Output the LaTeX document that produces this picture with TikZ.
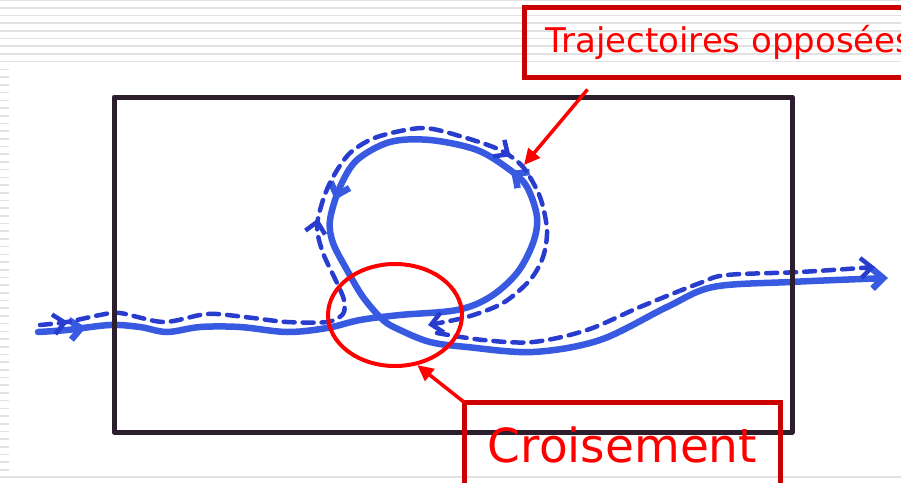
\documentclass[tikz,border=0pt]{standalone}
\usepackage{fontspec}
\setmainfont{DejaVu Sans}
\usetikzlibrary{positioning, arrows.meta, shapes.geometric, decorations.markings}

\definecolor{inkblue}{RGB}{55,90,225}
\definecolor{dashblue}{RGB}{40,60,205}
\definecolor{boxred}{RGB}{204,0,0}
\definecolor{penred}{RGB}{255,0,0}
\definecolor{markerblack}{RGB}{45,30,45}
\definecolor{stripegray}{RGB}{225,225,225}

\begin{document}
\begin{tikzpicture}[x=1pt, y=-1pt,
            % --- Styles for the sketch ---
            stripe/.style={draw=stripegray, line width=1.6pt},
            frame/.style={draw=markerblack, line width=5pt, line join=round},
            road/.style={draw=inkblue, line width=6.5pt, line cap=round, line join=round},
            track/.style={draw=dashblue, line width=4.5pt, line cap=round, dash pattern=on 11pt off 8pt},
            barb/.style={-{Straight Barb[length=11pt, width=20pt]}},
            flow mark/.style={postaction={decorate, decoration={markings,
                mark=at position #1 with {\arrow{Straight Barb[length=11pt, width=20pt]}}}}},
            labelbox/.style={draw=boxred, line width=5pt, text=penred, inner sep=0pt, outer sep=0pt},
            pointer/.style={draw=penred, line width=3.5pt, -{Triangle[length=16pt, width=15pt]}}
        ]

        \useasboundingbox (0,0) rectangle (901,482);
        \clip (0,0) rectangle (901,482);

        % --- Slide background stripes ---
        \foreach \k in {0,...,8} {
            \draw[stripe] (0,{\k*7.7}) -- (901,{\k*7.7});
        }
        \foreach \k in {0,...,52} {
            \draw[stripe] (0,{69.5+\k*7.7}) -- (9,{69.5+\k*7.7});
        }
        \draw[stripe] (0,477) -- (901,477);

        % --- Solid trajectory (loop counter-clockwise) ---
        \draw[road, barb, flow mark=48pt, flow mark=610pt, flow mark=822pt]
            plot[smooth, tension=0.55] coordinates {(38,332) (67,330) (110,325) (140,327) (167,332)
            (200,327) (240,327) (287,332) (327,328) (360,320) (400,315) (457,310) (490,297)
            (517,273) (533,243) (537,217) (527,187) (510,170) (477,150) (430,140) (390,142)
            (357,160) (340,187) (330,220) (333,243) (347,270) (363,297) (383,320) (400,330)
            (430,342) (467,347) (533,352) (600,340) (667,307) (713,287) (790,282) (888,278)};

        % --- Dashed trajectory (loop clockwise) ---
        \draw[track, barb, flow mark=28pt, flow mark=410pt, flow mark=655pt]
            plot[smooth, tension=0.5] coordinates {(40,325) (67,322) (100,315) (120,313) (163,322)
            (200,315) (217,314) (253,318) (287,322) (327,322) (343,314) (344,300) (337,283)
            (323,253) (317,227) (323,200) (333,177) (350,153) (377,137) (423,128) (463,137)
            (500,150) (523,167) (540,197) (547,230) (543,257) (530,280) (503,303) (467,317)
            (428,325)};
        \draw[track, barb]
            plot[smooth, tension=0.55] coordinates {(437,333) (483,340) (533,342) (587,330)
            (640,307) (700,283) (727,275) (800,272) (875,267)};

        % --- Frame ---
        \draw[frame] (114,97) rectangle (792,432);

        % --- Crossing mark ---
        \node[draw=penred, line width=4pt, ellipse, minimum width=134pt, minimum height=102pt,
            inner sep=0pt] (cross) at (395,315) {};

        % --- Labels ---
        \node[labelbox, font=\fontsize{34}{40}\selectfont, anchor=west, minimum height=70pt,
            inner xsep=21pt] (oppo) at (524.5,42.5) {Trajectoires opposées};
        \node[labelbox, font=\fontsize{47}{56}\selectfont, minimum width=316pt, minimum height=84pt,
            anchor=north] (crois) at (622.5,402.5) {Croisement};

        % --- Pointers ---
        \coordinate (opptip) at (524,165);
        \draw[pointer] ([xshift=63pt, yshift=-12pt]oppo.south west) -- (opptip);
        \draw[pointer] (crois.north west) -- (cross.-66);

\end{tikzpicture}
\end{document}
